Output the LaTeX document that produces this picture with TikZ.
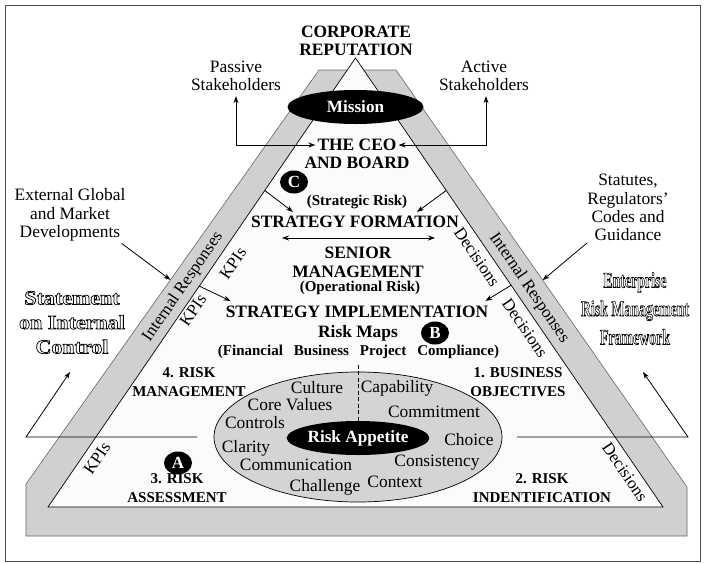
\documentclass[tikz,border=0pt]{standalone}
\usepackage{fontspec}
\setmainfont{Liberation Serif}
\usetikzlibrary{arrows.meta,calc,shapes.geometric}

\definecolor{bandgrey}{RGB}{208,208,208}
\definecolor{ovalgrey}{RGB}{212,212,212}
\definecolor{paper}{RGB}{251,251,251}

% outlined letters: white fill, black stroke
\newcommand{\hollow}[1]{{\color{white}\special{pdf:literal direct 2 Tr 0.7 w 0 0 0 RG}#1\special{pdf:literal direct 0 Tr}}}
\newcommand{\narrow}[1]{\scalebox{0.63}[1]{\hollow{#1}}}

\begin{document}
\begin{tikzpicture}[x=1pt,y=-1pt,>={Stealth[length=7pt,width=5pt]},
  head/.style={font=\bfseries\fontsize{17.4}{18.5}\selectfont,align=center,inner sep=0pt},
  sub/.style={font=\bfseries\fontsize{15}{18.5}\selectfont,align=center,inner sep=0pt},
  word/.style={font=\fontsize{17.4}{18.2}\selectfont,align=center,inner sep=0pt},
  tag/.style={font=\fontsize{17}{18}\selectfont,inner sep=0pt},
  badge/.style={ellipse,fill=black,text=white,font=\bfseries\fontsize{17}{17}\selectfont,
    minimum width=28pt,minimum height=23pt,inner sep=0pt},
  blackoval/.style={ellipse,fill=black,text=white,inner sep=0pt,
    font=\bfseries\fontsize{17.2}{18}\selectfont},
  link/.style={line width=0.8pt}]
  \useasboundingbox (0,0) rectangle (705,563);
  \draw[black!70,line width=1pt] (5,5) rectangle (700,561);

  % grey band and inner triangle
  \coordinate (otl) at (319,70);
  \coordinate (otr) at (396,70);
  \coordinate (obr) at (687,487);
  \coordinate (ofr) at (687,536);
  \coordinate (ofl) at (26,536);
  \coordinate (obl) at (26,484);
  \coordinate (apex) at (355.5,58);
  \coordinate (il) at (48,507);
  \coordinate (ir) at (663,507);
  \filldraw[fill=bandgrey,draw=black!60,line width=0.6pt]
    (otl) -- (otr) -- (obr) -- (ofr) -- (ofl) -- (obl) -- cycle;
  \filldraw[fill=paper,draw=black,line width=0.7pt] (apex) -- (ir) -- (il) -- cycle;

  % ovals
  \node[ellipse,fill=ovalgrey,draw=black,line width=0.7pt,minimum width=288pt,
    minimum height=130pt] (oval) at (358,437) {};
  \node[blackoval,minimum width=134pt,minimum height=34pt] (appetite) at (358,438) {Risk Appetite};
  \node[blackoval,minimum width=136pt,minimum height=34pt] (mission) at (355.5,107) {Mission};
  \draw[link,dash pattern=on 4pt off 2.5pt] ([yshift=7pt]oval.north) -- (appetite.north);

  % top
  \node[head] (corp) at (356,41) {CORPORATE\\REPUTATION};
  \node[word] (passive) at (236,76) {Passive\\Stakeholders};
  \node[word] (active) at (484,76) {Active\\Stakeholders};
  \node[head] (ceo) at (357,145) {THE CEO};
  \node[head] (board) at (357,163) {AND BOARD};
  \draw[link,<->] ([yshift=-5pt]passive.south) |- ([xshift=-2pt]ceo.west);
  \draw[link,<->] ([xshift=2pt,yshift=-5pt]active.south) |- ([xshift=2pt]ceo.east);

  % middle
  \node[badge] (c) at (294,182) {C};
  \node[sub] (strisk) at (357,202) {(Strategic Risk)};
  \node[head] (sf) at (355,222) {STRATEGY FORMATION};
  \coordinate (dl) at (282,238);
  \coordinate (dr) at (435,238);
  \draw[link,<->] (dl) -- (dr);
  \node[head] (senior) at (358,262.5) {SENIOR\\MANAGEMENT};
  \node[sub] (oprisk) at (360,288) {(Operational Risk)};
  \node[head] (si) at (357,312) {STRATEGY IMPLEMENTATION};
  \node[head] (maps) at (358,333) {Risk Maps};
  \node[badge] (b) at (435,333) {B};
  \node[sub] (cats) at (358.5,352)
    {(Financial\hspace{11pt}Business\hspace{11pt}Project\hspace{11pt}Compliance)};

  \coordinate (kl1) at ($(apex)!0.295!(il)$);
  \coordinate (kr1) at ($(apex)!0.295!(ir)$);
  \coordinate (kl2) at ($(apex)!0.508!(il)$);
  \coordinate (kr2) at ($(apex)!0.506!(ir)$);
  \draw[link,->] (kl1) -- ([xshift=42pt,yshift=4pt]sf.north west);
  \draw[link,->] (kr1) -- ([xshift=-42pt,yshift=4pt]sf.north east);
  \draw[link,->] (kl2) -- ([xshift=5pt,yshift=5pt]si.north west);
  \draw[link,->] (kr2) -- ([xshift=-3pt,yshift=5pt]si.north east);

  % stages
  \node[sub] (man4) at (189,382) {4. RISK\\MANAGEMENT};
  \node[sub] (bus1) at (518,382) {1. BUSINESS\\OBJECTIVES};
  \node[badge] (a) at (178,463) {A};
  \node[sub] (ass3) at (177,488) {3. RISK\\ASSESSMENT};
  \node[sub] (ident2) at (542,488) {2. RISK\\INDENTIFICATION};

  % oval words
  \node[word] (culture) at (317,388) {Culture};
  \node[word] (values) at (290,405) {Core Values};
  \node[word] (controls) at (255,423) {Controls};
  \node[word] (capability) at (397,388) {Capability};
  \node[word] (commitment) at (434,412) {Commitment};
  \node[word] (choice) at (469,440) {Choice};
  \node[word] (clarity) at (246,448) {Clarity};
  \node[word] (communication) at (296,465) {Communication};
  \node[word] (challenge) at (325,487) {Challenge};
  \node[word] (context) at (395,482) {Context};
  \node[word] (consistency) at (437,463) {Consistency};

  % along the band
  \node[tag,rotate=55.6] (irl) at (183,287) {Internal Responses};
  \node[tag,rotate=-55.6] (irr) at (529,288) {Internal Responses};
  \node[tag,rotate=55.6] (kpi1) at (233,263) {KPIs};
  \node[tag,rotate=55.6] (kpi2) at (193,310) {KPIs};
  \node[tag,rotate=55.6] (kpi3) at (97,458) {KPIs};
  \node[tag,rotate=-55.6] (dec1) at (477,257) {Decisions};
  \node[tag,rotate=-55.6] (dec2) at (525,328) {Decisions};
  \node[tag,rotate=-55.6] (dec3) at (625,472) {Decisions};

  % outside
  \node[word] (ext) at (70,215) {External Global\\and Market\\Developments};
  \node[word] (laws) at (628,207.5) {Statutes,\\Regulators'\\Codes and\\Guidance};
  \coordinate (extin) at ($(otl)!0.507!(obl)$);
  \coordinate (lawsin) at ($(otr)!0.504!(obr)$);
  \draw[link,->] ([xshift=-4pt,yshift=-2pt]ext.south east) -- (extin);
  \draw[link,->] ([yshift=-2pt]laws.south west) -- (lawsin);

  \node[align=center,font=\bfseries\fontsize{20}{24.5}\selectfont,inner sep=0pt]
    (stmt) at (72,322.5) {\scalebox{1.1}[1]{\hollow{Statement}}\\\scalebox{1.1}[1]{\hollow{on Internal}}\\\scalebox{1.1}[1]{\hollow{Control}}};
  \node[align=center,font=\bfseries\fontsize{22}{28.5}\selectfont,inner sep=0pt]
    (erm) at (635,308.5) {\narrow{Enterprise}\\\narrow{Risk Management}\\\narrow{Framework}};

  % feedback loops
  \coordinate (fl1) at (197,437);
  \coordinate (fl2) at (26,437);
  \coordinate (fl3) at (70,372);
  \coordinate (fr1) at (517,437);
  \coordinate (fr2) at (688,437);
  \coordinate (fr3) at (643,372);
  \draw[link,->] (fl1) -- (fl2) -- (fl3);
  \draw[link,->] (fr1) -- (fr2) -- (fr3);
\end{tikzpicture}
\end{document}
